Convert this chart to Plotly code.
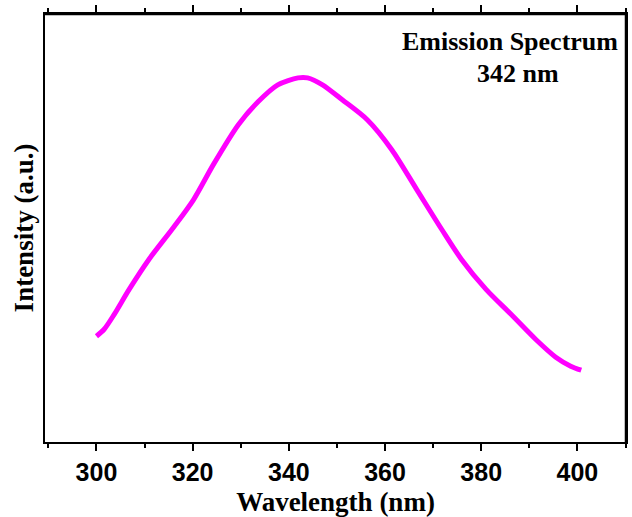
import plotly.graph_objects as go

wavelength = [300, 301.6, 303.7, 306.8, 310.9, 316, 320.2, 324.3, 329.5, 333.6, 337.7,
              341.9, 343.9, 347, 351.1, 356.3, 361.4, 366.6, 371.8, 375.9, 381,
              386.2, 391.3, 395.5, 398.6, 400.8]
intensity = [106, 113, 128, 153, 183, 215, 243, 278, 318, 341, 358,
             365, 365, 358, 343, 323, 293, 253, 213, 183, 153,
             128, 103, 85, 76, 72]

xticks = [300, 320, 340, 360, 380, 400]
minor_ticks = [290, 310, 330, 350, 370, 390, 410]

W, H = 632, 517
l, r, t, b = 45, 4, 14, 74

fig = go.Figure()
fig.add_trace(go.Scatter(x=wavelength, y=intensity, mode="lines",
                         line=dict(color="#FF00FF", width=5, shape="spline", smoothing=0.8),
                         showlegend=False))

fig.update_layout(
    width=W, height=H,
    margin=dict(l=l, r=r, t=t, b=b),
    paper_bgcolor="white", plot_bgcolor="white",
    xaxis=dict(range=[289.3, 410.1], tickvals=xticks, ticks="outside", ticklen=7,
               tickwidth=2, tickcolor="black", showgrid=False, zeroline=False,
               showline=True, linecolor="black", linewidth=2, mirror="all",
               minor=dict(tickvals=minor_ticks, ticks="outside", ticklen=4,
                          tickwidth=2, tickcolor="black"),
               tickfont=dict(family="Liberation Sans", size=25, color="black", weight="bold"),
               title=dict(text="<b>Wavelength (nm)</b>", standoff=8,
                          font=dict(family="Liberation Serif", size=27, color="black"))),
    yaxis=dict(range=[0, 429], showticklabels=False, ticks="", showgrid=False, zeroline=False,
               showline=True, linecolor="black", linewidth=2, mirror="all",
               title=dict(text="<b>Intensity (a.u.)</b>", standoff=2,
                          font=dict(family="Liberation Serif", size=27, color="black"))),
)

# explicit frame edges (top and right) drawn as lines in paper coordinates
fig.add_shape(type="line", xref="paper", yref="paper", x0=0, x1=1, y0=1, y1=1,
              line=dict(color="black", width=2.5), layer="above")
fig.add_shape(type="line", xref="paper", yref="paper", x0=1, x1=1, y0=0, y1=1,
              line=dict(color="black", width=2.5), layer="above")

pw, ph = W - l - r, H - t - b
def px(xp):
    return (xp - l) / pw
def py(yp):
    return (H - b - yp) / ph

fig.add_annotation(text="<b>Emission Spectrum</b>", x=px(512), y=py(42), xref="paper", yref="paper",
                   xanchor="center", yanchor="middle",
                   showarrow=False, font=dict(family="Liberation Serif", size=26, color="black"))
fig.add_annotation(text="<b>342 nm</b>", x=px(520), y=py(74), xref="paper", yref="paper",
                   xanchor="center", yanchor="middle",
                   showarrow=False, font=dict(family="Liberation Serif", size=26, color="black"))

fig.write_html("out.html")
